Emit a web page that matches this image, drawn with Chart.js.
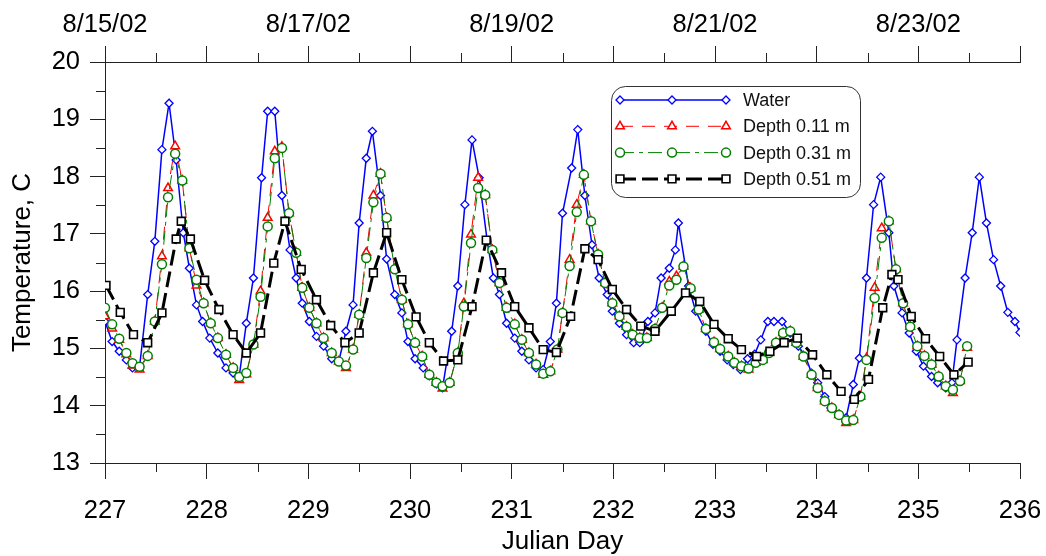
<!DOCTYPE html>
<html>
<head>
<meta charset="utf-8">
<script src="https://cdn.jsdelivr.net/npm/chart.js@4.4.1/dist/chart.umd.min.js"></script>
<style>
  html, body { margin: 0; padding: 0; background: #fff; }
  #wrap { width: 1046px; height: 556px; }
</style>
</head>
<body>
<div id="wrap"><canvas id="chart"></canvas></div>
<script>
// [julian day, temperature C]
const water = [
  [227.00, 15.47], [227.07, 15.12], [227.14, 14.95], [227.21, 14.80], [227.27, 14.66],
  [227.34, 14.68], [227.42, 15.94], [227.49, 16.87], [227.56, 18.47], [227.63, 19.28],
  [227.70, 18.29], [227.77, 17.02], [227.83, 16.40], [227.90, 15.76], [227.96, 15.47],
  [228.03, 15.18], [228.11, 14.92], [228.19, 14.66], [228.26, 14.57], [228.32, 14.51],
  [228.39, 15.44], [228.46, 16.23], [228.54, 17.98], [228.60, 19.14], [228.67, 19.14],
  [228.74, 17.67], [228.82, 16.72], [228.88, 16.23], [228.94, 15.79], [229.01, 15.47],
  [229.08, 15.21], [229.15, 15.04], [229.23, 14.82], [229.30, 14.78], [229.37, 15.30],
  [229.44, 15.76], [229.50, 17.19], [229.57, 18.32], [229.63, 18.79], [229.71, 17.67],
  [229.77, 16.56], [229.85, 15.94], [229.92, 15.62], [229.98, 15.12], [230.05, 14.82],
  [230.13, 14.66], [230.19, 14.52], [230.26, 14.38], [230.32, 14.31], [230.41, 15.30],
  [230.47, 16.09], [230.54, 17.51], [230.61, 18.64], [230.68, 17.98], [230.76, 16.87],
  [230.82, 16.23], [230.88, 15.94], [230.95, 15.44], [231.03, 15.18], [231.10, 14.95],
  [231.17, 14.80], [231.24, 14.66], [231.31, 14.63], [231.38, 15.12], [231.44, 15.79],
  [231.50, 17.36], [231.59, 18.15], [231.65, 18.82], [231.72, 17.67], [231.79, 16.81],
  [231.86, 16.23], [231.94, 15.94], [231.99, 15.65], [232.06, 15.44], [232.13, 15.24],
  [232.20, 15.10], [232.26, 15.10], [232.34, 15.47], [232.41, 15.62], [232.47, 16.23],
  [232.55, 16.40], [232.61, 16.72], [232.64, 17.19], [232.74, 16.09], [232.81, 15.65],
  [232.91, 15.30], [232.98, 15.07], [233.05, 14.95], [233.12, 14.80], [233.18, 14.72],
  [233.25, 14.63], [233.32, 14.82], [233.39, 14.90], [233.45, 15.15], [233.52, 15.47],
  [233.58, 15.47], [233.66, 15.47], [233.74, 15.27], [233.82, 15.04], [233.89, 14.86],
  [233.95, 14.57], [234.01, 14.40], [234.08, 14.16], [234.14, 13.96], [234.22, 13.84],
  [234.29, 13.79], [234.36, 14.37], [234.42, 14.83], [234.49, 16.23], [234.56, 17.51],
  [234.63, 17.99], [234.71, 17.02], [234.76, 16.09], [234.84, 15.62], [234.91, 15.27],
  [234.98, 14.95], [235.05, 14.69], [235.13, 14.51], [235.19, 14.40], [235.27, 14.31],
  [235.33, 14.40], [235.38, 15.15], [235.46, 16.23], [235.53, 17.02], [235.60, 17.99],
  [235.67, 17.19], [235.74, 16.55], [235.81, 16.09], [235.88, 15.63], [235.95, 15.47],
  [236.00, 15.28]
];

const depth011 = [
  [227.00, 15.56], [227.07, 15.35], [227.14, 15.15], [227.21, 14.90], [227.27, 14.70],
  [227.34, 14.63], [227.42, 14.87], [227.49, 15.47], [227.56, 16.61], [227.62, 17.80],
  [227.69, 18.53], [227.76, 17.93], [227.83, 16.75], [227.90, 16.10], [227.97, 15.79],
  [228.04, 15.44], [228.11, 15.18], [228.19, 14.89], [228.26, 14.66], [228.32, 14.45],
  [228.39, 14.55], [228.46, 15.07], [228.53, 16.00], [228.60, 17.28], [228.67, 18.44],
  [228.74, 18.52], [228.81, 17.36], [228.88, 16.67], [228.94, 16.06], [229.01, 15.71],
  [229.08, 15.44], [229.15, 15.18], [229.23, 14.92], [229.30, 14.77], [229.37, 14.66],
  [229.44, 14.98], [229.50, 15.59], [229.57, 16.67], [229.64, 17.67], [229.71, 18.05],
  [229.77, 17.28], [229.85, 16.38], [229.92, 15.85], [229.98, 15.42], [230.05, 15.10],
  [230.12, 14.86], [230.19, 14.54], [230.26, 14.40], [230.32, 14.30], [230.39, 14.40],
  [230.47, 14.92], [230.53, 15.79], [230.60, 16.99], [230.67, 17.98], [230.74, 17.68],
  [230.81, 16.72], [230.88, 16.14], [230.95, 15.71], [231.03, 15.42], [231.10, 15.15],
  [231.17, 14.92], [231.24, 14.72], [231.31, 14.54], [231.38, 14.60], [231.45, 14.98],
  [231.50, 15.62], [231.57, 16.55], [231.64, 17.51], [231.71, 18.03], [231.78, 17.22],
  [231.85, 16.64], [231.92, 16.14], [231.99, 15.79], [232.06, 15.56], [232.13, 15.38],
  [232.19, 15.24], [232.26, 15.18], [232.33, 15.18], [232.41, 15.34], [232.48, 15.71],
  [232.55, 16.17], [232.62, 16.26], [232.69, 16.43], [232.76, 16.05], [232.84, 15.68],
  [232.91, 15.34], [232.99, 15.11], [233.05, 14.99], [233.13, 14.86], [233.19, 14.75],
  [233.26, 14.69], [233.33, 14.63], [233.40, 14.75], [233.47, 14.80], [233.53, 14.92],
  [233.60, 15.10], [233.67, 15.27], [233.74, 15.30], [233.80, 15.10], [233.87, 14.86],
  [233.95, 14.54], [234.01, 14.31], [234.08, 14.08], [234.15, 13.96], [234.22, 13.84],
  [234.29, 13.70], [234.36, 13.75], [234.43, 14.16], [234.49, 14.83], [234.57, 16.06],
  [234.64, 17.10], [234.71, 17.22], [234.78, 16.38], [234.85, 15.79], [234.92, 15.38],
  [234.99, 15.04], [235.06, 14.87], [235.13, 14.72], [235.20, 14.51], [235.27, 14.34],
  [235.34, 14.22], [235.41, 14.43], [235.48, 15.01]
];

const depth031 = [
  [227.00, 15.71], [227.07, 15.42], [227.14, 15.17], [227.21, 14.92], [227.27, 14.74],
  [227.34, 14.68], [227.42, 14.87], [227.49, 15.47], [227.56, 16.47], [227.62, 17.64],
  [227.69, 18.40], [227.76, 17.93], [227.83, 16.75], [227.90, 16.20], [227.97, 15.79],
  [228.04, 15.44], [228.11, 15.18], [228.19, 14.89], [228.26, 14.66], [228.32, 14.50],
  [228.39, 14.57], [228.46, 15.07], [228.53, 15.90], [228.60, 17.13], [228.67, 18.32],
  [228.74, 18.50], [228.81, 17.36], [228.88, 16.67], [228.94, 16.06], [229.01, 15.71],
  [229.08, 15.44], [229.15, 15.18], [229.23, 14.92], [229.30, 14.77], [229.37, 14.70],
  [229.44, 14.98], [229.50, 15.59], [229.57, 16.58], [229.64, 17.55], [229.71, 18.05],
  [229.77, 17.28], [229.85, 16.38], [229.92, 15.85], [229.98, 15.42], [230.05, 15.10],
  [230.12, 14.86], [230.19, 14.54], [230.26, 14.40], [230.32, 14.34], [230.39, 14.40],
  [230.47, 14.92], [230.53, 15.73], [230.60, 16.84], [230.67, 17.80], [230.74, 17.68],
  [230.81, 16.72], [230.88, 16.14], [230.95, 15.71], [231.03, 15.42], [231.10, 15.15],
  [231.17, 14.92], [231.24, 14.72], [231.31, 14.56], [231.38, 14.60], [231.45, 14.98],
  [231.50, 15.62], [231.57, 16.44], [231.64, 17.38], [231.71, 18.03], [231.78, 17.22],
  [231.85, 16.64], [231.92, 16.14], [231.99, 15.79], [232.06, 15.56], [232.13, 15.38],
  [232.19, 15.24], [232.26, 15.18], [232.33, 15.18], [232.41, 15.34], [232.48, 15.71],
  [232.55, 16.10], [232.62, 16.20], [232.69, 16.43], [232.76, 16.05], [232.84, 15.68],
  [232.91, 15.34], [232.99, 15.11], [233.05, 14.99], [233.13, 14.86], [233.19, 14.75],
  [233.26, 14.69], [233.33, 14.65], [233.40, 14.75], [233.47, 14.80], [233.53, 14.92],
  [233.60, 15.10], [233.67, 15.27], [233.74, 15.30], [233.80, 15.10], [233.87, 14.86],
  [233.95, 14.54], [234.01, 14.31], [234.08, 14.08], [234.15, 13.96], [234.22, 13.84],
  [234.29, 13.74], [234.36, 13.75], [234.43, 14.16], [234.49, 14.80], [234.57, 15.88],
  [234.64, 16.93], [234.71, 17.22], [234.78, 16.38], [234.85, 15.79], [234.92, 15.38],
  [234.99, 15.04], [235.06, 14.87], [235.13, 14.72], [235.20, 14.51], [235.27, 14.34],
  [235.34, 14.28], [235.41, 14.43], [235.48, 15.04]
];

const depth051 = [
  [227.01, 16.10], [227.15, 15.63], [227.28, 15.24], [227.42, 15.10], [227.56, 15.62],
  [227.70, 16.91], [227.75, 17.22], [227.84, 16.91], [227.98, 16.19], [228.12, 15.68],
  [228.26, 15.24], [228.39, 14.92], [228.53, 15.27], [228.66, 16.49], [228.77, 17.22],
  [228.93, 16.38], [229.08, 15.85], [229.22, 15.40], [229.36, 15.10], [229.50, 15.27],
  [229.64, 16.32], [229.77, 17.02], [229.92, 16.20], [230.06, 15.55], [230.19, 15.10],
  [230.33, 14.78], [230.47, 14.80], [230.61, 15.73], [230.75, 16.89], [230.90, 16.32],
  [231.03, 15.73], [231.17, 15.36], [231.31, 14.98], [231.44, 14.93], [231.58, 15.56],
  [231.72, 16.74], [231.85, 16.55], [231.99, 16.03], [232.13, 15.68], [232.27, 15.39],
  [232.41, 15.30], [232.57, 15.65], [232.71, 15.97], [232.85, 15.82], [232.99, 15.42],
  [233.13, 15.17], [233.26, 14.98], [233.41, 14.86], [233.54, 14.95], [233.68, 15.10],
  [233.81, 15.18], [233.96, 14.89], [234.10, 14.54], [234.24, 14.25], [234.37, 14.11],
  [234.51, 14.46], [234.65, 15.71], [234.74, 16.29], [234.80, 16.20], [234.93, 15.56],
  [235.07, 15.17], [235.21, 14.86], [235.35, 14.54], [235.49, 14.76]
];

const seriesNames = ['Water', 'Depth 0.11 m', 'Depth 0.31 m', 'Depth 0.51 m'];
const dateTickDays = [227, 229, 231, 233, 235];
const dateTickLabels = ['8/15/02', '8/17/02', '8/19/02', '8/21/02', '8/23/02'];

const FONT = "'Liberation Sans', Arial, sans-serif";
const AXIS = '#222';

function pts(arr) {
  return arr.map(p => ({ x: p[0], y: p[1] }));
}

// half-step ticks, shorter than the major ones
const minorTicks = {
  id: 'minorTicks',
  afterDraw(chart) {
    const ctx = chart.ctx;
    const a = chart.chartArea;
    ctx.save();
    ctx.strokeStyle = AXIS;
    ctx.lineWidth = 1;
    ctx.beginPath();
    for (let v = 227.5; v < 236; v += 1) {
      const px = Math.round(chart.scales.x.getPixelForValue(v)) + 0.5;
      ctx.moveTo(px, a.bottom); ctx.lineTo(px, a.bottom + 9);
      ctx.moveTo(px, a.top); ctx.lineTo(px, a.top - 9);
    }
    for (let v = 13.5; v < 20; v += 1) {
      const py = Math.round(chart.scales.y.getPixelForValue(v)) + 0.5;
      ctx.moveTo(a.left, py); ctx.lineTo(a.left - 9, py);
    }
    ctx.stroke();
    ctx.restore();
  }
};

function marker(ctx, style, x, y, r) {
  ctx.beginPath();
  if (style === 'rectRot') {
    ctx.moveTo(x, y - r); ctx.lineTo(x + r, y); ctx.lineTo(x, y + r); ctx.lineTo(x - r, y);
    ctx.closePath();
  } else if (style === 'triangle') {
    ctx.moveTo(x, y - r); ctx.lineTo(x + r * 0.87, y + r * 0.5); ctx.lineTo(x - r * 0.87, y + r * 0.5);
    ctx.closePath();
  } else if (style === 'circle') {
    ctx.arc(x, y, r, 0, Math.PI * 2);
  } else {
    const s = r * Math.SQRT1_2;
    ctx.rect(x - s, y - s, 2 * s, 2 * s);
  }
  ctx.fill();
  ctx.stroke();
}

// boxed legend with a line sample carrying three markers
const boxLegend = {
  id: 'boxLegend',
  afterDraw(chart) {
    const ctx = chart.ctx;
    const bx = 611, by = 86, bw = 249, bh = 111;
    ctx.save();
    ctx.fillStyle = '#fff';
    ctx.strokeStyle = '#333';
    ctx.lineWidth = 1;
    ctx.beginPath();
    ctx.roundRect(bx + 0.5, by + 0.5, bw, bh, 14);
    ctx.fill();
    ctx.stroke();
    chart.data.datasets.forEach((ds, i) => {
      const y = 100 + i * 26.3;
      ctx.strokeStyle = ds.borderColor;
      ctx.lineWidth = ds.borderWidth;
      ctx.setLineDash(ds.borderDash || []);
      ctx.beginPath();
      ctx.moveTo(620, y); ctx.lineTo(726, y);
      ctx.stroke();
      ctx.setLineDash([]);
      ctx.lineWidth = ds.pointBorderWidth;
      ctx.fillStyle = '#fff';
      [620, 672, 726].forEach(x => marker(ctx, ds.pointStyle, x, y, ds.pointRadius));
      ctx.fillStyle = '#111';
      ctx.font = '18px ' + FONT;
      ctx.textBaseline = 'middle';
      ctx.fillText(ds.label, 743, y + 1);
    });
    ctx.restore();
  }
};

new Chart(document.getElementById('chart'), {
  type: 'line',
  data: {
    datasets: [
      {
        label: seriesNames[0], data: pts(water), order: 4,
        borderColor: '#0000ff', borderWidth: 1.5,
        pointStyle: 'rectRot', pointRadius: 4, pointBorderWidth: 1.3,
        pointBorderColor: '#0000ff', pointBackgroundColor: '#fff'
      },
      {
        label: seriesNames[1], data: pts(depth011), order: 3,
        borderColor: '#ff0000', borderWidth: 1, borderDash: [13, 9],
        pointStyle: 'triangle', pointRadius: 5, pointBorderWidth: 1.5,
        pointBorderColor: '#ff0000', pointBackgroundColor: '#fff'
      },
      {
        label: seriesNames[2], data: pts(depth031), order: 2,
        borderColor: '#008000', borderWidth: 1, borderDash: [14, 5, 4, 5],
        pointStyle: 'circle', pointRadius: 4.5, pointBorderWidth: 1.5,
        pointBorderColor: '#008000', pointBackgroundColor: '#fff'
      },
      {
        label: seriesNames[3], data: pts(depth051), order: 1,
        borderColor: '#000000', borderWidth: 3, borderDash: [16, 6],
        pointStyle: 'rect', pointRadius: 5.5, pointBorderWidth: 1.6,
        pointBorderColor: '#000000', pointBackgroundColor: '#fff'
      }
    ]
  },
  options: {
    responsive: true,
    maintainAspectRatio: false,
    animation: false,
    devicePixelRatio: 1,
    layout: { padding: { left: 0, right: 26, top: 0, bottom: 0 } },
    elements: { line: { tension: 0 } },
    plugins: { legend: { display: false }, tooltip: { enabled: false } },
    scales: {
      x: {
        type: 'linear', position: 'bottom', min: 227, max: 236,
        afterFit: s => { s.height = 93; s.paddingLeft = 0; s.paddingRight = 0; },
        ticks: { stepSize: 1, color: '#000', padding: 16.5, maxRotation: 0, font: { family: FONT, size: 25.5 } },
        grid: { drawOnChartArea: false, tickLength: 16, color: AXIS },
        border: { color: AXIS, width: 1 },
        title: { display: true, text: 'Julian Day', color: '#000', padding: { top: 0, bottom: -1 }, font: { family: FONT, size: 26 } }
      },
      x2: {
        type: 'linear', position: 'top', min: 227, max: 236,
        afterFit: s => { s.height = 62; s.paddingLeft = 0; s.paddingRight = 0; },
        ticks: {
          stepSize: 1, color: '#000', padding: 5.5, maxRotation: 0, autoSkip: false,
          font: { family: FONT, size: 25.5 },
          callback: v => {
            const i = dateTickDays.indexOf(v);
            return i >= 0 ? dateTickLabels[i] : '';
          }
        },
        grid: { drawOnChartArea: false, tickLength: 16, color: AXIS },
        border: { color: AXIS, width: 1 }
      },
      y: {
        type: 'linear', position: 'left', min: 13, max: 20,
        afterFit: s => { s.width = 105; },
        ticks: { stepSize: 1, color: '#000', padding: 10, font: { family: FONT, size: 25.5 } },
        grid: { drawOnChartArea: false, tickLength: 15, color: AXIS },
        border: { color: AXIS, width: 1 },
        title: { display: true, text: 'Temperature, C', color: '#000', padding: { top: 7, bottom: 0 }, font: { family: FONT, size: 26 } }
      }
    }
  },
  plugins: [minorTicks, boxLegend]
});
</script>
</body>
</html>
